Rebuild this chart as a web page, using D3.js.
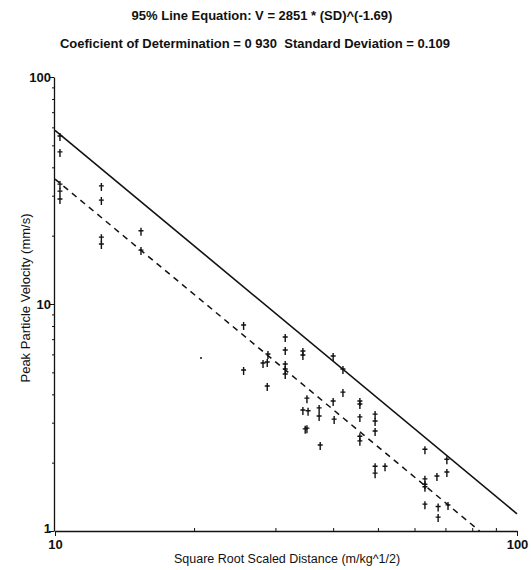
<!DOCTYPE html>
<html>
<head>
<meta charset="utf-8">
<script src="https://cdn.jsdelivr.net/npm/d3@7"></script>
<style>
  body { margin: 0; background: #fff; }
  text { font-family: "Liberation Sans", Arial, sans-serif; fill: #111; }
</style>
</head>
<body>
<div id="chart"></div>
<script>
// scaled distance (m/kg^1/2) and peak particle velocity (mm/s)
const distances = [
  10.25, 10.25, 10.25, 10.25, 10.25,
  12.6, 12.6, 12.6, 12.6,
  15.35, 15.35,
  25.6, 25.6,
  28.9, 28.2, 28.8, 28.8,
  31.5, 31.5, 31.5, 31.5, 31.5,
  34.4, 34.4,
  40.0, 42.0, 42.0,
  35.1, 34.4, 35.3, 34.8, 35.1,
  37.3, 37.3, 37.5,
  40.0, 40.2,
  45.7, 45.7, 45.7, 45.7, 45.7,
  49.3, 49.3, 49.3,
  49.3, 49.3, 51.8,
  63.2, 70.5, 70.5, 67.1,
  63.2, 63.2, 63.2, 63.2,
  67.5, 67.5, 70.9
];
const velocities = [
  54.4, 46.3, 33.4, 31.1, 28.7,
  32.8, 28.4, 19.5, 18.2,
  20.8, 17.1,
  8.0, 5.07,
  5.96, 5.44, 5.5, 4.31,
  7.08, 6.21, 5.39, 5.12, 4.87,
  6.15, 5.90,
  5.84, 5.12, 4.05,
  3.81, 3.38, 3.35, 2.79, 2.81,
  3.45, 3.18, 2.37,
  3.70, 3.08,
  3.70, 3.59, 3.15, 2.59, 2.47,
  3.24, 3.02, 2.73,
  1.91, 1.78, 1.91,
  2.27, 2.05, 1.80, 1.73,
  1.68, 1.59, 1.55, 1.30,
  1.27, 1.14, 1.29
];
// stray dot left of the main cloud
const dotDistances = [20.7];
const dotVelocities = [5.78];

// 95% line and mean line end points
const line95Distances = [10, 100];
const line95Velocities = [58.2, 1.19];
const meanDistances = [10, 83];
const meanVelocities = [35.5, 1];

const xTickValues = [10, 20, 30, 40, 50, 60, 70, 80, 90, 100];
const xTickLabels = {10: "10", 100: "100"};
const yTickValues = [1, 2, 3, 4, 5, 6, 7, 8, 9, 10, 20, 30, 40, 50, 60, 70, 80, 90, 100];
const yTickLabels = {1: "1", 10: "10", 100: "100"};

const titleLines = [
  "95% Line Equation: V = 2851 * (SD)^(-1.69)",
  "Coeficient of Determination = 0 930  Standard Deviation = 0.109"
];
const xTitle = "Square Root Scaled Distance (m/kg^1/2)";
const yTitle = "Peak Particle Velocity (mm/s)";

const width = 531, height = 570;
const margin = {top: 77, right: 14, bottom: 39, left: 55};

const svg = d3.select("#chart").append("svg")
    .attr("width", width)
    .attr("height", height);

const x = d3.scaleLog().domain([10, 100]).range([margin.left, width - margin.right]);
const y = d3.scaleLog().domain([1, 100]).range([height - margin.bottom, margin.top]);

// titles
svg.selectAll(".title")
    .data(titleLines)
    .enter()
    .append("text")
    .attr("class", "title")
    .attr("x", (d, i) => i == 0 ? 262 : 255)
    .attr("y", (d, i) => 20 + i * 28)
    .attr("text-anchor", "middle")
    .attr("font-size", "13px")
    .attr("font-weight", "bold")
    .style("white-space", "pre")
    .text(d => d);

// axes
const xAxis = d3.axisBottom(x)
    .tickValues(xTickValues)
    .tickFormat(d => xTickLabels[d] || "")
    .tickSizeOuter(0);
const gx = svg.append("g")
    .attr("transform", `translate(0,${y(1)})`)
    .call(xAxis);
gx.selectAll(".tick line")
    .attr("y2", d => xTickLabels[d] ? 5 : -3);

const yAxis = d3.axisLeft(y)
    .tickValues(yTickValues)
    .tickFormat(d => yTickLabels[d] || "")
    .tickSizeOuter(0);
const gy = svg.append("g")
    .attr("transform", `translate(${x(10) - 1},0)`)
    .call(yAxis);
gy.selectAll(".tick line")
    .attr("x2", d => yTickLabels[d] ? -5 : -2);

[gx, gy].forEach(g => {
  g.select(".domain").attr("stroke", "#111").attr("stroke-width", 1.3);
  g.selectAll(".tick line").attr("stroke", "#111").attr("stroke-width", 1);
  g.selectAll(".tick text")
    .attr("font-size", "13px")
    .attr("font-weight", "bold")
    .attr("font-family", "'Liberation Sans', Arial, sans-serif")
    .attr("fill", "#111");
});
gy.selectAll(".tick text")
    .attr("x", -3)
    .attr("dy", d => d == 1 ? "0.1em" : "0.32em");
gx.selectAll(".tick text").attr("y", 9);

// axis titles
svg.append("text")
    .attr("x", 287)
    .attr("y", 563)
    .attr("text-anchor", "middle")
    .attr("font-size", "12.5px")
    .text(xTitle);

svg.append("text")
    .attr("transform", "translate(30,298) rotate(-90)")
    .attr("text-anchor", "middle")
    .attr("font-size", "13px")
    .text(yTitle);

// fit lines
const line = d3.line()
    .x(d => x(d[0]))
    .y(d => y(d[1]));

svg.append("path")
    .datum(d3.zip(line95Distances, line95Velocities))
    .attr("d", line)
    .attr("fill", "none")
    .attr("stroke", "#111")
    .attr("stroke-width", 1.6);

svg.append("path")
    .datum(d3.zip(meanDistances, meanVelocities))
    .attr("d", line)
    .attr("fill", "none")
    .attr("stroke", "#111")
    .attr("stroke-width", 1.5)
    .attr("stroke-dasharray", "6,5");

// data points, drawn as small crosses
const points = d3.zip(distances, velocities);
svg.append("g")
    .selectAll("path")
    .data(points)
    .enter()
    .append("path")
    .attr("transform", d => `translate(${x(d[0])},${y(d[1])})`)
    .attr("d", "M0,-4V4M-2.5,-1H2.5")
    .attr("fill", "none")
    .attr("stroke", "#111")
    .attr("stroke-width", 1.4);

svg.append("g")
    .selectAll("circle")
    .data(d3.zip(dotDistances, dotVelocities))
    .enter()
    .append("circle")
    .attr("cx", d => x(d[0]))
    .attr("cy", d => y(d[1]))
    .attr("r", 1)
    .attr("fill", "#111");
</script>
</body>
</html>
